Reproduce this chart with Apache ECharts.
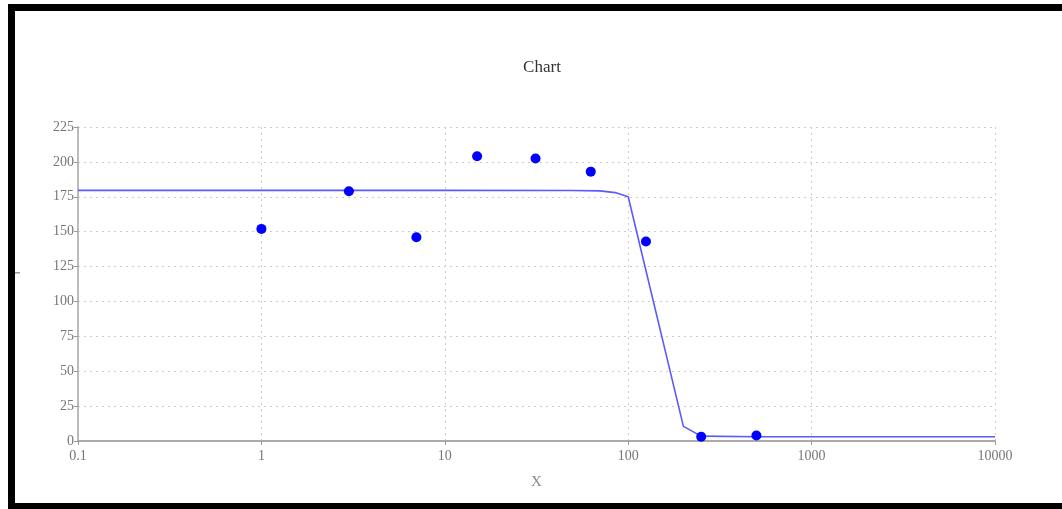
<!DOCTYPE html>
<html>
<head>
<meta charset="utf-8">
<script src="https://cdn.jsdelivr.net/npm/echarts@6/dist/echarts.min.js"></script>
<style>
html,body{margin:0;padding:0;background:#fff;}
#c{width:1062px;height:509px;}
</style>
</head>
<body>
<div id="c"></div>
<script>
// Observed points
const pointX = [1, 3, 7, 15, 31.25, 62.5, 125, 250, 500];
const pointY = [152, 179, 146, 204, 202.4, 193, 143, 3, 4];
// Fitted curve
const curveX = [0.1, 1, 10, 50, 70, 85, 100, 200, 250, 500, 1000, 10000];
const curveY = [179.6, 179.6, 179.6, 179.5, 179.2, 178, 175, 10.5, 3.5, 3, 3, 3];
const yTicks = [0, 25, 50, 75, 100, 125, 150, 175, 200, 225];
const xTickLabels = ['0.1', '1', '10', '100', '1000', '10000'];

const chart = echarts.init(document.getElementById('c'));
const serif = '"Liberation Serif", "DejaVu Serif", serif';
chart.setOption({
  animation: false,
  backgroundColor: '#fff',
  title: {
    text: 'Chart', left: 537, top: 54, textAlign: 'center',
    textStyle: {fontFamily: serif, fontSize: 17, fontWeight: 'normal', color: '#333'}
  },
  grid: {left: 78, right: 67, top: 127, bottom: 68},
  xAxis: {
    type: 'log', logBase: 10, min: 0.1, max: 10000,
    name: 'X', nameLocation: 'middle', nameGap: 34,
    nameTextStyle: {fontFamily: serif, fontSize: 15, color: '#888'},
    axisLine: {lineStyle: {color: '#aaa', width: 2}},
    axisTick: {show: true, length: 4, lineStyle: {color: '#999'}},
    axisLabel: {fontFamily: serif, fontSize: 14, color: '#777', margin: 8,
      formatter: function(v){ const s = String(+v.toPrecision(6)); return xTickLabels.indexOf(s) >= 0 ? s : ''; }},
    splitLine: {show: true, lineStyle: {type: [2, 4], color: '#ccc', width: 1}},
    minorTick: {show: false}
  },
  yAxis: {
    type: 'value', min: 0, max: 225, interval: 25,
    axisLine: {show: true, lineStyle: {color: '#bbb', width: 2}},
    axisTick: {show: true, length: 4, lineStyle: {color: '#999'}},
    axisLabel: {fontFamily: serif, fontSize: 14, color: '#777', margin: 4,
      formatter: function(v){ return yTicks.indexOf(v) >= 0 ? String(v) : ''; }},
    splitLine: {show: true, lineStyle: {type: [2, 4], color: '#ccc', width: 1}}
  },
  series: [
    {
      type: 'line', data: curveX.map((x, i) => [x, curveY[i]]),
      showSymbol: false, smooth: false,
      lineStyle: {color: '#5a5aff', width: 1.6}, z: 2
    },
    {
      type: 'scatter', data: pointX.map((x, i) => [x, pointY[i]]),
      symbol: 'circle', symbolSize: 10,
      itemStyle: {color: '#0000ff', opacity: 1}, z: 3
    }
  ],
  graphic: [
    {type: 'rect', shape: {x: 8, y: 4, width: 1054, height: 7}, style: {fill: '#000'}},
    {type: 'rect', shape: {x: 8, y: 4, width: 7, height: 505}, style: {fill: '#000'}},
    {type: 'rect', shape: {x: 8, y: 503, width: 1054, height: 6}, style: {fill: '#000'}},
    {type: 'rect', shape: {x: 15, y: 272, width: 5, height: 1.5}, style: {fill: '#999'}}
  ]
});
</script>
</body>
</html>
